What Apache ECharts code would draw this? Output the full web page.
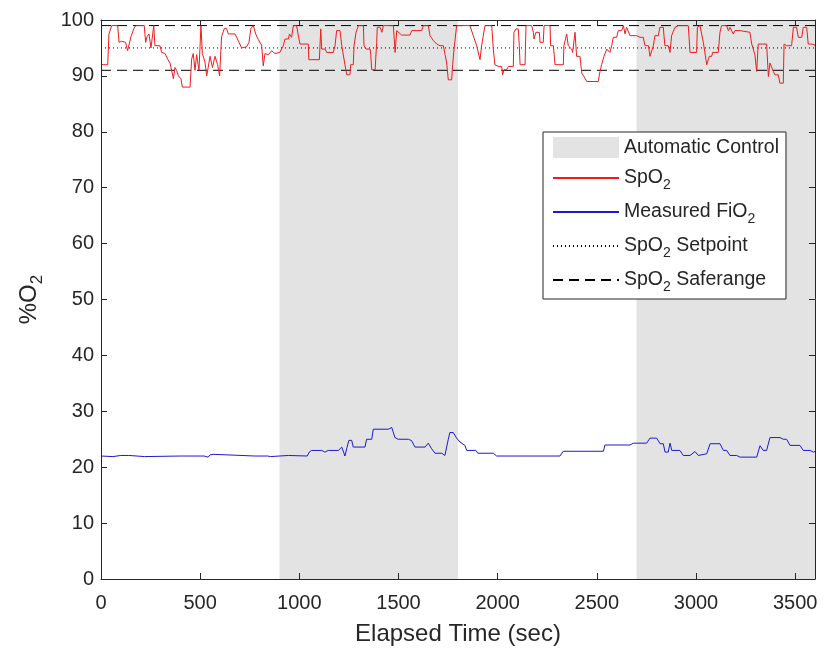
<!DOCTYPE html>
<html>
<head>
<meta charset="utf-8">
<script src="https://cdn.jsdelivr.net/npm/echarts@6/dist/echarts.min.js"></script>
<style>
html,body{margin:0;padding:0;background:#fff;}
#chart{width:824px;height:651px;}
</style>
</head>
<body>
<div id="chart"></div>
<script>
// ---- data ----
const autoStart = [900, 2700];
const autoEnd = [1800, 3600];
const setpoint = 95;
const safeLow = 91;
const safeHigh = 99;
const timeRange = [0, 3600];

const spo2Data = [
[0,92],[34,92],[40,97.5],[54,99],[84,99],[91,96],[104,96.2],[124,96],[134,94.5],[144,94.2],[151,97],[165,98.4],[175,99],[218,99],[225,96],[232,97],[242,97.5],[252,95],[266,99],[272,95.4],[297,95.4],[306,94.2],[323,94],[336,93],[348,92.3],[356,91],[365,89.5],[373,91.5],[381,91],[390,90],[403,89.5],[410,88],[449,88],[457,93],[465,94],[474,91],[482,93.8],[494,91],[504,99],[511,94],[524,92.5],[533,90],[550,93.5],[562,91.5],[575,93.5],[588,92],[598,90],[608,97],[622,98.5],[633,98.5],[642,97.5],[676,97.5],[696,96],[709,95],[734,95.2],[746,96],[756,98.5],[768,99],[780,97.5],[793,96.5],[810,95.5],[818,91.8],[827,94],[844,93.8],[860,94.5],[877,94],[902,94.2],
[919,95.4],[928,96.6],[945,96.6],[950,97.5],[961,96.9],[970,99],[986,99],[995,98.7],[1003,95.7],[1045,95.7],[1048,92.9],[1101,92.9],[1108,98.4],[1113,94.8],[1130,94.8],[1138,94.2],[1171,94.2],[1180,95.4],[1188,98.1],[1205,98.1],[1214,95.4],[1230,92],[1239,90.2],[1255,90.2],[1259,92],[1272,92],[1276,95.4],[1286,97.8],[1298,99],[1323,99],[1326,95.4],[1336,94.8],[1357,94.8],[1360,93.8],[1365,91.1],[1382,91.1],[1390,96],[1393,98.7],[1407,98.7],[1416,97.8],[1424,99],[1474,99],[1483,94.2],[1491,98.1],[1500,97.8],[1516,97.3],[1558,97.3],[1567,98.1],[1617,98.1],[1625,99],[1650,99],[1659,97.2],[1676,96.3],[1693,95.7],[1709,95.4],[1726,95.4],[1735,93.8],[1743,92.3],[1751,89.3],[1768,89.3],[1773,92],[1780,94.8],[1793,99],[1860,99],
[1869,99],[1877,97.2],[1894,95.4],[1911,92.9],[1919,95.4],[1936,99],[1970,99],[1978,94.8],[1986,92],[1995,92],[2003,91.7],[2020,91.7],[2025,90.2],[2032,91.1],[2045,91.1],[2054,91.7],[2079,91.7],[2082,97.8],[2092,98.4],[2104,98.4],[2109,95.4],[2113,92],[2138,92],[2143,99],[2171,99],[2180,97.8],[2183,96.6],[2193,97.8],[2210,97.8],[2214,96],[2230,96],[2234,99],[2264,99],[2267,95.4],[2281,95.4],[2289,92],[2331,92],[2334,95.4],[2344,95.4],[2348,97.5],[2356,95.4],[2373,94.8],[2378,94.2],[2390,97.8],[2398,93.5],[2415,93.5],[2424,90.5],[2432,90.5],[2440,89.6],[2449,89],[2507,89],[2516,90.8],[2524,92],[2533,92],[2536,93.5],[2550,94.8],[2566,94.2],[2575,95.4],[2583,96.9],[2600,96.9],[2608,98.1],[2625,98.1],[2634,99],[2642,97.5],[2650,98.7],[2659,98.7],[2667,97.2],[2700,97.2],
[2718,96.9],[2734,96.9],[2743,95.4],[2760,95.4],[2768,93.5],[2776,93.5],[2785,95.4],[2793,97.2],[2810,97.2],[2818,98.7],[2835,98.7],[2843,95.4],[2860,95.4],[2869,94.2],[2877,97.2],[2886,97.2],[2894,98.7],[2902,98.7],[2911,99],[2961,99],[2970,94.2],[3003,94.2],[3007,98.7],[3017,98.7],[3020,99],[3028,99],[3037,96],[3045,96],[3054,92],[3062,92],[3067,93.5],[3079,93.5],[3084,94.2],[3112,94.2],[3121,97.8],[3129,99],[3154,99],[3163,98.1],[3171,98.7],[3188,97.5],[3196,98.1],[3222,98.1],[3230,97.8],[3272,97.8],[3281,95.7],[3289,95.7],[3297,93.8],[3306,90.8],[3314,95.7],[3356,95.7],[3365,89.9],[3373,92.3],[3381,92.3],[3390,90.8],[3398,90.2],[3415,90.2],[3423,88.7],[3440,88.7],[3444,95.7],[3457,95.4],[3482,95.4],[3491,98.7],[3507,98.7],[3516,96.9],[3533,96.9],[3541,98.7],[3558,98.7],[3566,95.7],[3583,95.7],[3591,96],[3600,95.5]
];

const fio2Data = [
[0,22],[60,21.9],[100,22.1],[110,22.2],[140,22.1],[150,22],[220,21.9],[230,22],[400,22],[407,22.2],[415,22],[520,22],[526,22.3],[540,21.8],[550,22.2],[565,22.3],[575,22],[640,22.2],[648,22],[775,22],[780,22.3],[790,22],[840,22],[846,22.2],[855,21.9],[945,22.1],[955,22],[1040,22],[1050,22.7],[1062,23],[1113,23],[1129,22.7],[1146,23],[1197,23],[1214,23.6],[1230,22],[1240,23.5],[1250,24.8],[1264,24.8],[1272,23.6],[1331,23.6],[1339,25],[1365,25],[1373,26.8],[1449,26.8],[1457,27.1],[1466,27.1],[1482,25.3],[1499,25],[1550,25],[1566,24.75],[1583,23.6],[1634,23.6],[1650,24.3],[1667,23.3],[1684,22.5],[1718,22.5],[1734,22.1],[1751,25],[1759,26.2],[1776,26.2],[1793,25.2],[1810,24.5],[1835,23.9],[1844,23],[1890,23],[1900,22.5],[1978,22.5],[1995,22],[2140,22],[2145,21.9],[2150,22],[2314,22],[2331,22.85],[2533,22.85],[2541,23.97],[2667,23.97],[2684,24.3],[2751,24.3],[2768,25.2],[2802,25.2],[2819,24.2],[2835,24.2],[2844,22.7],[2860,22.7],[2869,24.3],[2878,23],[2919,23],[2936,22.1],[2970,22.1],[2995,22.8],[3012,22.1],[3054,22.4],[3071,24.2],[3121,24.2],[3138,23],[3155,23],[3171,22.1],[3205,22.1],[3222,21.8],[3306,21.8],[3323,23.85],[3339,23],[3356,23],[3373,25.3],[3424,25.3],[3440,25],[3457,25],[3474,23.9],[3524,23.9],[3541,23],[3575,23],[3592,22.7],[3600,22.8]
];

const legendNames = ['Automatic Control', 'SpO2', 'Measured FiO2', 'SpO2 Setpoint', 'SpO2 Saferange'];

// ---- chart ----
const FONT = '"Liberation Sans", Arial, Helvetica, sans-serif';
const TXT = '#262626';
const chart = echarts.init(document.getElementById('chart'), null, {renderer: 'canvas'});

function subFmt(name) {
  const parts = name.split('O2');
  let out = '';
  parts.forEach((p, i) => {
    if (p) out += '{n|' + p + '}';
    if (i < parts.length - 1) out += '{n|O}{s|2}';
  });
  return out;
}

const richLegend = {
  n: {fontSize: 19.5, fontFamily: FONT, color: TXT, lineHeight: 20, verticalAlign: 'middle'},
  s: {fontSize: 14, fontFamily: FONT, color: TXT, lineHeight: 14, padding: [14, 0, 0, 0], verticalAlign: 'middle'}
};

function axisCommon() {
  return {
    axisLine: {show: true, onZero: false, lineStyle: {color: TXT, width: 1}},
    axisTick: {show: true, inside: true, length: 6, lineStyle: {color: TXT, width: 1}},
    splitLine: {show: false},
    z: 5
  };
}
const numFmt = v => String(v);

const option = {
  animation: false,
  backgroundColor: '#fff',
  grid: {left: 101, right: 9, top: 20, bottom: 71, show: false},
  legend: {
    orient: 'vertical',
    left: 543, top: 132,
    padding: [5, 7, 5, 9],
    itemWidth: 66, itemHeight: 21, itemGap: 6,
    borderColor: TXT, borderWidth: 1, backgroundColor: '#fff',
    itemStyle: {opacity: 0},
    data: [
      {name: legendNames[0], icon: 'rect', itemStyle: {color: '#e3e3e3', opacity: 1}},
      {name: legendNames[1]},
      {name: legendNames[2]},
      {name: legendNames[3]},
      {name: legendNames[4]}
    ],
    formatter: subFmt,
    textStyle: {rich: richLegend, fontSize: 19.5, fontFamily: FONT, color: TXT},
    selectedMode: false
  },
  xAxis: [
    Object.assign(axisCommon(), {
      type: 'value', min: timeRange[0], max: timeRange[1], interval: 500,
      position: 'bottom',
      name: 'Elapsed Time (sec)', nameLocation: 'middle', nameGap: 43,
      nameTextStyle: {fontSize: 24, fontFamily: FONT, color: TXT},
      axisLabel: {fontSize: 20, fontFamily: FONT, color: TXT, margin: 14, showMaxLabel: false, formatter: numFmt}
    }),
    Object.assign(axisCommon(), {
      type: 'value', min: timeRange[0], max: timeRange[1], interval: 500,
      position: 'top', axisLabel: {show: false}
    })
  ],
  yAxis: [
    Object.assign(axisCommon(), {
      type: 'value', min: 0, max: 100, interval: 10, position: 'left',
      name: '{n|%O}{s|2}', nameLocation: 'middle', nameGap: 60,
      nameTextStyle: {
        rich: {
          n: {fontSize: 24, fontFamily: FONT, color: TXT, lineHeight: 24, verticalAlign: 'middle'},
          s: {fontSize: 17, fontFamily: FONT, color: TXT, lineHeight: 17, padding: [16, 0, 0, 0], verticalAlign: 'middle'}
        }
      },
      axisLabel: {fontSize: 20, fontFamily: FONT, color: TXT, margin: 7, formatter: numFmt}
    }),
    Object.assign(axisCommon(), {
      type: 'value', min: 0, max: 100, interval: 10, position: 'right', axisLabel: {show: false}
    })
  ],
  series: [
    {
      name: legendNames[0], type: 'line', data: [], z: 1,
      itemStyle: {color: '#e3e3e3'},
      markArea: {
        silent: true,
        itemStyle: {color: '#e3e3e3'},
        data: autoStart.map((s, i) => [{xAxis: s}, {xAxis: autoEnd[i]}])
      }
    },
    {
      name: legendNames[3], type: 'line', symbol: 'none', z: 2,
      data: [[timeRange[0], setpoint], [timeRange[1], setpoint]],
      itemStyle: {color: '#000'},
      lineStyle: {color: '#000', width: 1, type: [1, 3]}
    },
    {
      name: legendNames[4], type: 'line', symbol: 'none', z: 2,
      data: [[timeRange[0], safeHigh], [timeRange[1], safeHigh]],
      itemStyle: {color: '#000'},
      lineStyle: {color: '#000', width: 1, type: [10, 6]}
    },
    {
      name: legendNames[4], type: 'line', symbol: 'none', z: 2,
      data: [[timeRange[0], safeLow], [timeRange[1], safeLow]],
      itemStyle: {color: '#000'},
      lineStyle: {color: '#000', width: 1, type: [10, 6]}
    },
    {
      name: legendNames[1], type: 'line', symbol: 'none', z: 3,
      data: spo2Data,
      itemStyle: {color: '#ee1c1c'},
      lineStyle: {color: '#ee1c1c', width: 1}
    },
    {
      name: legendNames[2], type: 'line', symbol: 'none', z: 3,
      data: fio2Data,
      itemStyle: {color: '#1a1ad0'},
      lineStyle: {color: '#1a1ad0', width: 1}
    }
  ]
};
chart.setOption(option);
</script>
</body>
</html>
